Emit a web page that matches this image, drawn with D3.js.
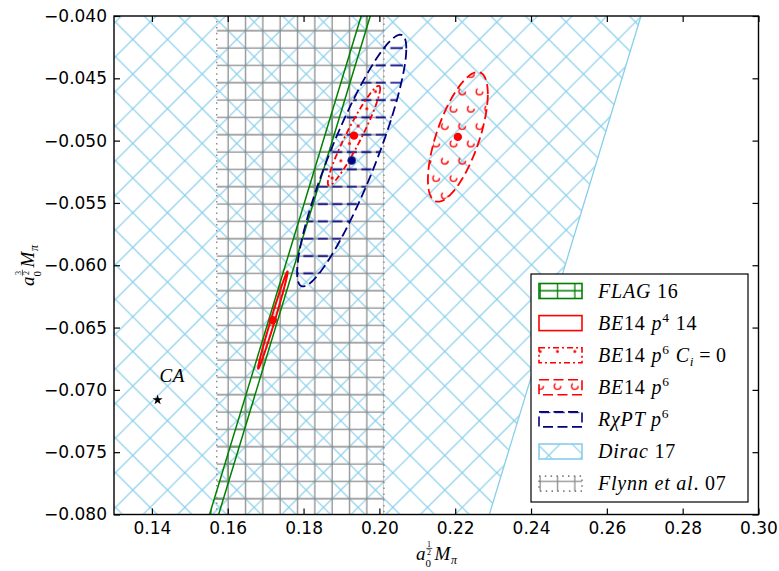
<!DOCTYPE html>
<html><head><meta charset="utf-8">
<script src="https://cdn.jsdelivr.net/npm/d3@7"></script>
<style>body{margin:0;background:#fff} svg{display:block}</style>
</head><body><svg id="c" width="779" height="571"></svg>
<script>
// ---------------- data ----------------
const xDomain = [0.13, 0.30];
const yDomain = [-0.080, -0.040];
const xTicks = [0.14, 0.16, 0.18, 0.20, 0.22, 0.24, 0.26, 0.28, 0.30];
const xTickLabels = ["0.14","0.16","0.18","0.20","0.22","0.24","0.26","0.28","0.30"];
const yTicks = [-0.080, -0.075, -0.070, -0.065, -0.060, -0.055, -0.050, -0.045, -0.040];
const yTickLabels = ["\u22120.080","\u22120.075","\u22120.070","\u22120.065","\u22120.060","\u22120.055","\u22120.050","\u22120.045","\u22120.040"];

// ellipses: BE14 p4 14, BE14 p6 Ci=0, BE14 p6, RchiPT p6
const ellCenterA0 = [0.1719, 0.1933, 0.2207, 0.1927];
const ellCenterA2 = [-0.0644, -0.0496, -0.0497, -0.0516];
const ellSigmaA0  = [0.0039, 0.0069, 0.0079, 0.0144];
const ellSigmaA2  = [0.0039, 0.0040, 0.0052, 0.0101];
const ellRho      = [0.990, 0.945, 0.66, 0.89];
// bands in a0 - a2
const flagBand  = [0.2352, 0.2376];
const diracBand = [0.160, 0.309];
// Flynn et al. 07 range in a0
const flynnA0 = [0.1571, 0.2012];
// CA point
const caPoint = [0.1415, -0.0708];

// ---------------- setup ----------------
const svg = d3.select('#c');
const defs = svg.append('defs');
const X0 = 114, X1 = 758.5, Y0 = 16, Y1 = 514.5;
const x = d3.scaleLinear().domain(xDomain).range([X0, X1]);
const y = d3.scaleLinear().domain(yDomain).range([Y1, Y0]);
defs.append('clipPath').attr('id','clip').append('rect')
  .attr('x',X0).attr('y',Y0).attr('width',X1-X0).attr('height',Y1-Y0);

// hatch patterns (tile anchored like Agg)
const T = 104, h = T/6, Tx = 80.8, Ty = -47.3;
function pat(id){ return defs.append('pattern').attr('id',id).attr('patternUnits','userSpaceOnUse')
  .attr('x',Tx).attr('y',Ty).attr('width',T).attr('height',T); }
const mids = d3.range(6).map(k => (k+0.5)*h);
const steps = d3.range(7).map(i => -0.5 + i/6);

const pd = pat('hDirac');
steps.forEach(s => {
  pd.append('line').attr('x1',T*s).attr('y1',T+T*s).attr('x2',T+T*s).attr('y2',T*s);
  pd.append('line').attr('x1',T*s).attr('y1',-T*s).attr('x2',T+T*s).attr('y2',T-T*s);
});
pd.selectAll('line').attr('stroke','#87CEEB').attr('stroke-width',1.2);

function plusPat(id, color){
  const p = pat(id);
  mids.forEach(m => {
    p.append('line').attr('x1',0).attr('x2',T).attr('y1',m).attr('y2',m);
    p.append('line').attr('y1',0).attr('y2',T).attr('x1',m).attr('x2',m);
  });
  p.selectAll('line').attr('stroke',color).attr('stroke-width',1.3);
}
plusPat('hFlag','#008000');
plusPat('hFlynn','#8c8c8c');

const pr = pat('hRchi');
mids.forEach(m => pr.append('line').attr('x1',0).attr('x2',T).attr('y1',m).attr('y2',m));
pr.selectAll('line').attr('stroke','#000080').attr('stroke-width',1.6).attr('stroke-dasharray','10 4.5');

function gridPts(){ const pts=[]; for(let r=0;r<=6;r++){ const v=T-r*h;
  if(r%2===0){ for(let c=0;c<=6;c++) pts.push([c*h,v]); } else { for(let c=0;c<6;c++) pts.push([(c+0.5)*h,v]); } }
  return pts; }
const po = pat('hO');
gridPts().forEach(([cx,cy]) => { const r=3.3;
  po.append('path').attr('d',`M${cx+r},${cy}A${r},${r} 0 0 1 ${cx},${cy+r}A${r},${r} 0 0 1 ${cx-r},${cy}A${r},${r} 0 0 1 ${cx},${cy-r}A${r},${r} 0 0 1 ${cx+r},${cy}`);
});
po.selectAll('path').attr('fill','none').attr('stroke','#ff0000').attr('stroke-width',1.4).attr('stroke-dasharray','13 8');
const pdot = pat('hDot');
gridPts().forEach(([cx,cy]) => pdot.append('circle').attr('cx',cx).attr('cy',cy).attr('r',1.5));
pdot.selectAll('circle').attr('fill','#ff0000');

// ---------------- plot ----------------
const plot = svg.append('g').attr('clip-path','url(#clip)');
function bandPoly(c){ const a2s=[-0.09,-0.03];
  return [[x(c[0]+a2s[0]),y(a2s[0])],[x(c[0]+a2s[1]),y(a2s[1])],[x(c[1]+a2s[1]),y(a2s[1])],[x(c[1]+a2s[0]),y(a2s[0])]]; }
const poly = d3.line().curve(d3.curveLinearClosed);

// Dirac
plot.append('path').attr('d',poly(bandPoly(diracBand))).attr('fill','url(#hDirac)')
  .attr('stroke','#87CEEB').attr('stroke-width',1.3);
// FLAG hatch
plot.append('path').attr('d',poly(bandPoly(flagBand))).attr('fill','url(#hFlag)').attr('stroke','none');
// Flynn
plot.append('rect').attr('x',x(flynnA0[0])).attr('width',x(flynnA0[1])-x(flynnA0[0]))
  .attr('y',Y0-5).attr('height',Y1-Y0+10).attr('fill','url(#hFlynn)')
  .attr('stroke','#808080').attr('stroke-width',1.3).attr('stroke-dasharray','1.5 4.3');

function ellPts(i){ const n=200; return d3.range(n).map(k => { const t=2*Math.PI*k/n;
  const a0 = ellCenterA0[i] + ellSigmaA0[i]*Math.cos(t);
  const a2 = ellCenterA2[i] + ellSigmaA2[i]*(ellRho[i]*Math.cos(t) + Math.sqrt(1-ellRho[i]*ellRho[i])*Math.sin(t));
  return [x(a0), y(a2)]; }); }

const ellFill = ['none','url(#hDot)','url(#hO)','url(#hRchi)'];
const ellColor = ['#ff0000','#ff0000','#ff0000','#000080'];
const ellDash = [null,'6 3 2 3','10 4.5','10 4.5'];
const ellWidth = [2,1.8,1.8,1.8];
[3,2,1,0].forEach(i => {
  plot.append('path').attr('d',poly(ellPts(i))).attr('fill',ellFill[i]).attr('stroke','none');
});
// FLAG edge lines
flagBand.forEach(c => {
  plot.append('line').attr('x1',x(c-0.09)).attr('y1',y(-0.09)).attr('x2',x(c-0.03)).attr('y2',y(-0.03))
    .attr('stroke','#008000').attr('stroke-width',1.5);
});
[3,2,1,0].forEach(i => {
  plot.append('path').attr('d',poly(ellPts(i))).attr('fill','none').attr('stroke',ellColor[i])
    .attr('stroke-width',ellWidth[i]).attr('stroke-dasharray',ellDash[i]);
});
// centre dots
[0,1,2].forEach(i => plot.append('circle').attr('cx',x(ellCenterA0[i])).attr('cy',y(ellCenterA2[i])).attr('r',4.2).attr('fill','#ff0000'));
plot.append('circle').attr('cx',x(ellCenterA0[3])).attr('cy',y(ellCenterA2[3])).attr('r',4).attr('fill','#000080').attr('stroke','#2a3a9a').attr('stroke-width',0.8);
// CA
plot.append('path').attr('d',d3.symbol(d3.symbolStar,32)()).attr('transform',`translate(${x(caPoint[0])},${y(caPoint[1])})`).attr('fill','#000');
plot.append('text').attr('x',x(caPoint[0])+2).attr('y',y(caPoint[1])-18).text('CA')
  .attr('font-family','Liberation Serif').attr('font-style','italic').attr('font-size',19).attr('letter-spacing',0.6);

// ---------------- axes ----------------
const ax = svg.append('g');
ax.append('g').attr('transform',`translate(0,${Y1})`)
  .call(d3.axisBottom(x).tickValues(xTicks).tickFormat((d,i)=>xTickLabels[i]).tickSize(-6).tickPadding(7));
ax.append('g').attr('transform',`translate(0,${Y0})`)
  .call(d3.axisTop(x).tickValues(xTicks).tickFormat('').tickSize(-6));
ax.append('g').attr('transform',`translate(${X0},0)`)
  .call(d3.axisLeft(y).tickValues(yTicks).tickFormat((d,i)=>yTickLabels[i]).tickSize(-6).tickPadding(7));
ax.append('g').attr('transform',`translate(${X1},0)`)
  .call(d3.axisRight(y).tickValues(yTicks).tickFormat('').tickSize(-6));
ax.selectAll('.domain').remove();
ax.selectAll('.tick line').attr('stroke','#000').attr('stroke-width',1.2);
ax.selectAll('.tick text').attr('font-family','DejaVu Sans').attr('font-size',17).attr('fill','#000');
svg.append('rect').attr('x',X0).attr('y',Y0).attr('width',X1-X0).attr('height',Y1-Y0)
  .attr('fill','none').attr('stroke','#000').attr('stroke-width',1.4);

// math axis labels
const SERIF = 'Liberation Serif';
function mathLabel(g, frac){
  g.append('text').attr('x',0).attr('y',0).text('a').attr('font-style','italic').attr('font-size',19);
  g.append('text').attr('x',9.5).attr('y',6.5).text('0').attr('font-size',11);
  g.append('text').attr('x',11).attr('y',-13.5).text(frac[0]).attr('font-size',8);
  g.append('line').attr('x1',10.3).attr('x2',16.3).attr('y1',-11.6).attr('y2',-11.6).attr('stroke','#000').attr('stroke-width',0.7);
  g.append('text').attr('x',11).attr('y',-5).text(frac[1]).attr('font-size',8);
  g.append('text').attr('x',18.5).attr('y',0).text('M').attr('font-style','italic').attr('font-size',19);
  g.append('text').attr('x',35).attr('y',3.5).text('\u03c0').attr('font-style','italic').attr('font-size',12);
  g.selectAll('text').attr('font-family',SERIF).attr('fill','#000');
}
mathLabel(svg.append('g').attr('transform','translate(416,560)'), ['1','2']);
mathLabel(svg.append('g').attr('transform','translate(34,286) rotate(-90)'), ['3','2']);

// ---------------- legend ----------------
const lg = svg.append('g');
lg.append('rect').attr('x',531).attr('y',274).attr('width',217).attr('height',228)
  .attr('fill','#fff').attr('stroke','#000').attr('stroke-width',1.2);
const legendFill = ['url(#hFlag)','none','url(#hDot)','url(#hO)','url(#hRchi)','url(#hDirac)','url(#hFlynn)'];
const legendEdge = ['#008000','#ff0000','#ff0000','#ff0000','#000080','#87CEEB','#808080'];
const legendDash = [null,null,'6 3 2 3','10 4.5','10 4.5',null,'1.5 4.3'];
// label parts: [text, italic, shift]  shift: 0 normal, 1 superscript, -1 subscript
const legendLabels = [
  [['FLAG',1,0],[' 16',0,0]],
  [['BE',1,0],['14 ',0,0],['p',1,0],['4',0,1],[' 14',0,0]],
  [['BE',1,0],['14 ',0,0],['p',1,0],['6',0,1],[' C',1,0],['i',1,-1],['\u2009=\u20090',0,0]],
  [['BE',1,0],['14 ',0,0],['p',1,0],['6',0,1]],
  [['R\u03c7PT',1,0],[' p',1,0],['6',0,1]],
  [['Dirac',1,0],[' 17',0,0]],
  [['Flynn et al',1,0],['. 07',0,0]]
];
const rowY0 = 291, rowDY = 32.1;
legendLabels.forEach((parts,i) => {
  const cy = rowY0 + i*rowDY;
  lg.append('rect').attr('x',539).attr('y',cy-7.5).attr('width',43).attr('height',15)
    .attr('fill',legendFill[i]).attr('stroke',legendEdge[i]).attr('stroke-width',1.6)
    .attr('stroke-dasharray',legendDash[i]);
  const t = lg.append('text').attr('x',598).attr('y',cy+6.5).attr('font-family',SERIF).attr('font-size',20)
    .attr('letter-spacing',0.8).attr('fill','#000');
  let cur = 0;
  parts.forEach(([s,it,sh]) => {
    const dy = sh===1 ? -8 : sh===-1 ? 4 : 0;
    t.append('tspan').text(s).attr('font-style',it?'italic':'normal')
      .attr('font-size',sh?13.5:20).attr('dy',dy-cur);
    cur = dy;
  });
});
</script></body></html>
